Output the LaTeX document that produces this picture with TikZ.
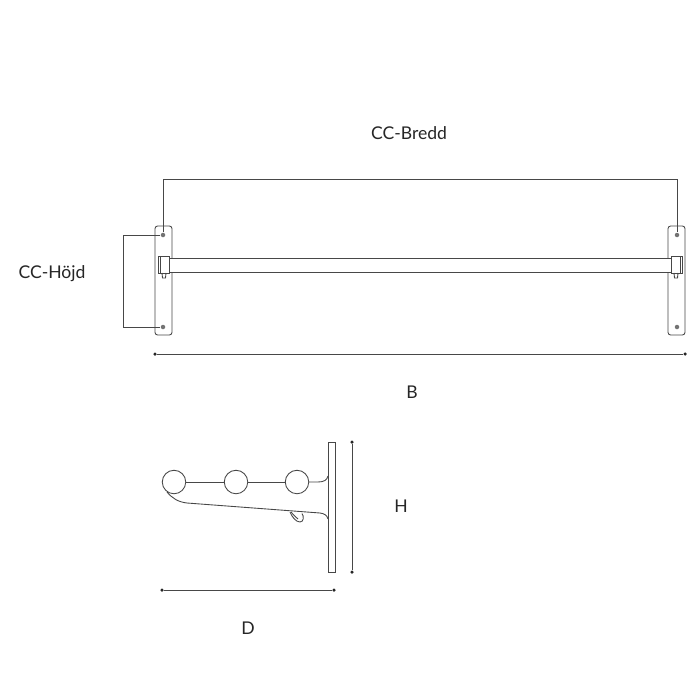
\documentclass[tikz,border=0pt]{standalone}
\usepackage{fontspec}
\setmainfont{Lato}
\usetikzlibrary{positioning}
\tikzset{
  line/.style={draw=black!72, line width=0.5pt},
  plate/.style={line, fill=white, rectangle, rounded corners=1.5pt, minimum width=0.34cm, minimum height=2.18cm, inner sep=0pt},
  rail/.style={line, fill=white, rectangle, minimum width=10.04cm, minimum height=0.28cm, inner sep=0pt},
  clamp/.style={line, fill=white, rectangle, minimum width=0.22cm, minimum height=0.34cm, inner sep=0pt},
  screw/.style={circle, fill=black!55, minimum size=0.09cm, inner sep=0pt},
  tick/.style={circle, fill=black!85, minimum size=0.07cm, inner sep=0pt},
  ball/.style={line, fill=white, circle, minimum size=0.47cm, inner sep=0pt},
  label/.style={font=\fontsize{10}{12}\selectfont, text=black!85}
}

\begin{document}
\begin{tikzpicture}
  \useasboundingbox (0cm,0cm) rectangle (14cm,-14cm);
  \fill[white] (0cm,0cm) rectangle (14cm,-14cm);
  % front view
  \node[plate] (plateL) at (3.27cm,-5.61cm) {};
  \node[plate] (plateR) at (13.53cm,-5.61cm) {};
  \node[rail] (rail) at (8.4cm,-5.3cm) {};
  \node[clamp] (clampL) at (3.27cm,-5.29cm) {};
  \node[clamp] (clampR) at (13.53cm,-5.29cm) {};
  \draw[line] (3.2cm,-5.12cm) -- (3.2cm,-5.46cm);
  \draw[line] (13.6cm,-5.12cm) -- (13.6cm,-5.46cm);
  \draw[line] (3.24cm,-5.46cm) -- (3.25cm,-5.56cm) -- (3.31cm,-5.56cm) -- (3.32cm,-5.46cm);
  \draw[line] (13.48cm,-5.46cm) -- (13.49cm,-5.56cm) -- (13.55cm,-5.56cm) -- (13.56cm,-5.46cm);
  \node[screw] (screwLT) at (3.26cm,-4.7cm) {};
  \node[screw] (screwLB) at (3.26cm,-6.54cm) {};
  \node[screw] (screwRT) at (13.54cm,-4.7cm) {};
  \node[screw] (screwRB) at (13.54cm,-6.54cm) {};
  % cc lines
  \coordinate (breddL) at (3.26cm,-3.58cm);
  \coordinate (breddR) at (13.54cm,-3.58cm);
  \coordinate (hojdT) at (2.46cm,-4.7cm);
  \coordinate (hojdB) at (2.46cm,-6.54cm);
  \draw[line] (screwLT) -- (breddL) -- (breddR) -- (screwRT);
  \draw[line] (screwLT) -- (hojdT) -- (hojdB) -- (screwLB);
  \node[tick] (widthL) at (3.1cm,-7.08cm) {};
  \node[tick] (widthR) at (13.7cm,-7.08cm) {};
  \draw[line] (widthL) -- (widthR);
  % side view
  \node[line, fill=white, rectangle, minimum width=0.14cm, minimum height=2.6cm, inner sep=0pt] (sidePlate) at (6.63cm,-10.14cm) {};
  \node[ball] (ballA) at (3.48cm,-9.64cm) {};
  \node[ball] (ballB) at (4.72cm,-9.64cm) {};
  \node[ball] (ballC) at (5.94cm,-9.64cm) {};
  \draw[line] (ballA) -- (ballB) -- (ballC);
  \draw[line] (ballC) -- (6.36cm,-9.64cm) .. controls (6.48cm,-9.64cm) and (6.54cm,-9.6cm) .. (6.56cm,-9.52cm);
  \draw[line] (3.34cm,-9.84cm) .. controls (3.44cm,-9.96cm) and (3.56cm,-10.04cm) .. (3.74cm,-10.06cm)
    -- (6.4cm,-10.26cm) .. controls (6.48cm,-10.27cm) and (6.54cm,-10.3cm) .. (6.56cm,-10.38cm);
  \draw[line] (5.8cm,-10.24cm) .. controls (5.84cm,-10.34cm) and (5.92cm,-10.44cm) .. (6cm,-10.44cm)
    .. controls (6.08cm,-10.44cm) and (6.08cm,-10.32cm) .. (6.04cm,-10.27cm);
  \draw[line] (5.82cm,-10.24cm) .. controls (5.86cm,-10.3cm) and (5.92cm,-10.34cm) .. (5.96cm,-10.38cm);
  \node[tick] (heightT) at (7.04cm,-8.84cm) {};
  \node[tick] (heightB) at (7.04cm,-11.44cm) {};
  \draw[line] (heightT) -- (heightB);
  \node[tick] (depthL) at (3.24cm,-11.8cm) {};
  \node[tick] (depthR) at (6.68cm,-11.8cm) {};
  \draw[line] (depthL) -- (depthR);
  % labels
  \node[label] (bredd) at (8.18cm,-2.66cm) {CC-Bredd};
  \node[label] (hojd) at (1.04cm,-5.48cm) {CC-Höjd};
  \node[label] (b) at (8.24cm,-7.84cm) {B};
  \node[label] (h) at (8.02cm,-10.12cm) {H};
  \node[label] (d) at (4.96cm,-12.56cm) {D};
\end{tikzpicture}
\end{document}
